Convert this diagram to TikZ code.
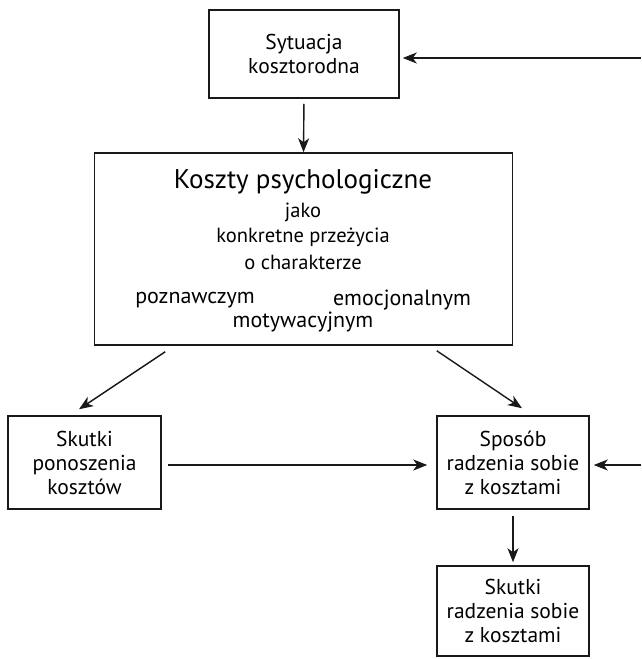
\documentclass[tikz,border=0pt]{standalone}
\usepackage{fontspec}
\setmainfont{PT Sans}
\usetikzlibrary{arrows.meta}
\begin{document}
\begin{tikzpicture}[x=1pt,y=-1pt,
  box/.style={draw=black!90,line width=1.5pt,rectangle,inner sep=0pt,align=center,font=\fontsize{21.5}{24}\selectfont},
  txt/.style={inner sep=0pt,font=\fontsize{20.5}{24}\selectfont},
  txtb/.style={inner sep=0pt,font=\fontsize{22}{24}\selectfont},
  arr/.style={line width=1.4pt,draw=black!90,-{Stealth[length=14pt,width=11pt,inset=4pt]}}]
\useasboundingbox (0,0) rectangle (641,659);
\node[box,minimum width=190pt,minimum height=88pt] (sit) at (304,54) {Sytuacja\\kosztorodna};
\node[box,minimum width=418pt,minimum height=192pt] (main) at (303.5,249) {};
\node[txt,font=\fontsize{27}{30}\selectfont] (t1) at (303,182) {Koszty psychologiczne};
\node[txt] (t2) at (303,212) {jako};
\node[txt] (t3) at (303,237) {konkretne przeżycia};
\node[txt] (t4) at (303,262) {o charakterze};
\node[txtb] (t5) at (195,300) {poznawczym};
\node[txtb] (t6) at (402,300) {emocjonalnym};
\node[txtb] (t7) at (303,322) {motywacyjnym};
\node[box,minimum width=153pt,minimum height=93pt] (skp) at (84.5,462.5) {Skutki\\ponoszenia\\kosztów};
\node[box,minimum width=152pt,minimum height=93pt] (spo) at (513,462.5) {Sposób\\radzenia sobie\\z kosztami};
\node[box,minimum width=152pt,minimum height=90pt] (skr) at (513,611) {Skutki\\radzenia sobie\\z kosztami};
\coordinate (r1) at (641,58);
\coordinate (r2) at (641,465);
\draw[arr,shorten <=5pt] (sit.south) -- (main.north);
\draw[arr,shorten >=3pt] (r1) -- (r1 -| sit.east);
\draw[arr,shorten >=4pt] (r2) -- (r2 -| spo.east);
\draw[arr] ([xshift=71.5pt,yshift=-6pt]main.south west) -- ([xshift=-5.5pt,yshift=6pt]skp.north);
\draw[arr] ([xshift=-76.5pt,yshift=-5pt]main.south east) -- ([xshift=9pt,yshift=7pt]spo.north);
\draw[arr,shorten <=6pt,shorten >=9pt] ([yshift=-2.5pt]skp.east) -- ([yshift=-2.5pt]spo.west);
\draw[arr,shorten <=6pt,shorten >=3pt] (spo.south) -- (skr.north);
\end{tikzpicture}
\end{document}
